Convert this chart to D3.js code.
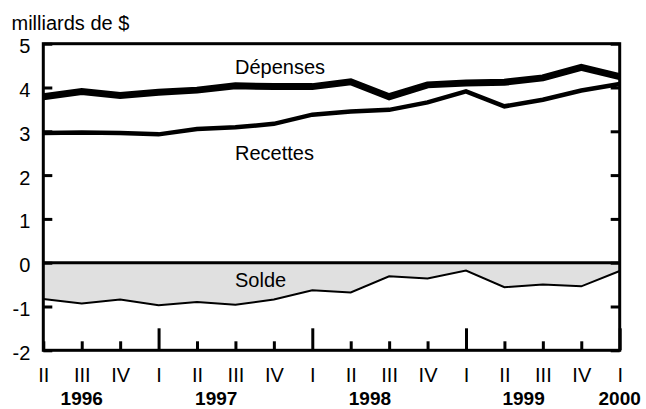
<!DOCTYPE html>
<html>
<head>
<meta charset="utf-8">
<script src="https://cdn.jsdelivr.net/npm/d3@7"></script>
<style>
  body { margin: 0; background: #fff; }
  svg text { font-family: "Liberation Sans", Arial, sans-serif; fill: #000; }
</style>
</head>
<body>
<div id="chart"></div>
<script>
// quarters from 1996 Q2 to 2000 Q1
var quarters = ["II","III","IV","I","II","III","IV","I","II","III","IV","I","II","III","IV","I"];
var quarterYears = [1996,1996,1996,1997,1997,1997,1997,1998,1998,1998,1998,1999,1999,1999,1999,2000];
var yTicks = [5, 4, 3, 2, 1, 0, -1, -2];

// milliards de $
var depenses = [3.79, 3.91, 3.82, 3.89, 3.94, 4.04, 4.02, 4.02, 4.13, 3.79, 4.06, 4.10, 4.12, 4.22, 4.46, 4.25];
var recettes = [2.96, 2.97, 2.96, 2.93, 3.05, 3.09, 3.17, 3.38, 3.45, 3.49, 3.66, 3.91, 3.57, 3.72, 3.93, 4.08];
var solde = [-0.83, -0.93, -0.84, -0.97, -0.90, -0.96, -0.84, -0.63, -0.68, -0.31, -0.36, -0.18, -0.56, -0.50, -0.54, -0.19];

var svgWidth = 646;
var svgHeight = 409;
var margin = { top: 43.7, right: 26.3, bottom: 58.7, left: 43.3 };
var width = svgWidth - margin.left - margin.right;
var height = svgHeight - margin.top - margin.bottom;

var svg = d3.select("#chart")
  .append("svg")
  .attr("width", svgWidth)
  .attr("height", svgHeight);

var chartGroup = svg.append("g")
  .attr("transform", `translate(${margin.left}, ${margin.top})`);

var idx = quarters.map((q, i) => i);

var xScale = d3.scaleLinear()
  .domain([0, quarters.length - 1])
  .range([0, width]);

var yScale = d3.scaleLinear()
  .domain([-2, 5])
  .range([height, 0]);

// unit label
svg.append("text")
  .attr("x", 11.5)
  .attr("y", 29.5)
  .attr("font-size", "20px")
  .text("milliards de $");

// solde area
var area = d3.area()
  .x((d, i) => xScale(i))
  .y0(yScale(0))
  .y1(d => yScale(d));

chartGroup.append("path")
  .datum(solde)
  .attr("d", area)
  .attr("fill", "#e0e0e0");

// zero line
chartGroup.append("line")
  .attr("x1", 0)
  .attr("x2", width)
  .attr("y1", yScale(0))
  .attr("y2", yScale(0))
  .attr("stroke", "#000")
  .attr("stroke-width", 3);

var line = d3.line()
  .x((d, i) => xScale(i))
  .y(d => yScale(d));

chartGroup.append("path")
  .datum(solde)
  .attr("d", line)
  .attr("fill", "none")
  .attr("stroke", "#000")
  .attr("stroke-width", 2);

chartGroup.append("path")
  .datum(recettes)
  .attr("d", line)
  .attr("fill", "none")
  .attr("stroke", "#000")
  .attr("stroke-width", 4.5);

chartGroup.append("path")
  .datum(depenses)
  .attr("d", line)
  .attr("fill", "none")
  .attr("stroke", "#000")
  .attr("stroke-width", 7);

// axes
var leftAxis = d3.axisLeft(yScale)
  .tickValues(yTicks)
  .tickFormat(d => String(d))
  .tickSizeInner(-9)
  .tickSizeOuter(0)
  .tickPadding(13);

var rightAxis = d3.axisRight(yScale)
  .tickValues(yTicks)
  .tickFormat("")
  .tickSizeInner(-9)
  .tickSizeOuter(0);

var bottomAxis = d3.axisBottom(xScale)
  .tickValues(idx)
  .tickFormat(i => quarters[i])
  .tickSizeInner(-9)
  .tickSizeOuter(0)
  .tickPadding(18);

var yAxisG = chartGroup.append("g").call(leftAxis);
var yRightG = chartGroup.append("g")
  .attr("transform", `translate(${width}, 0)`)
  .call(rightAxis);
var xAxisG = chartGroup.append("g")
  .attr("transform", `translate(0, ${height})`)
  .call(bottomAxis);

// longer ticks at the start of each year
xAxisG.selectAll(".tick line")
  .attr("y2", i => quarters[i] === "I" ? -22 : -9);

[yAxisG, yRightG, xAxisG].forEach(function(g) {
  g.select(".domain").remove();
  g.selectAll(".tick line").attr("stroke", "#000").attr("stroke-width", 3);
  g.selectAll("text").attr("font-size", "20px").attr("font-family", null);
});

yAxisG.selectAll("text").attr("dy", "0.45em");

// year labels, centred on the quarters of each year
var years = Array.from(new Set(quarterYears));
chartGroup.selectAll(".year")
  .data(years)
  .enter()
  .append("text")
  .attr("class", "year")
  .attr("x", y => xScale(d3.mean(idx.filter(i => quarterYears[i] === y))))
  .attr("y", height + 54.5)
  .attr("text-anchor", "middle")
  .attr("font-size", "19px")
  .attr("font-weight", "bold")
  .text(y => y);

// frame
chartGroup.append("rect")
  .attr("x", 0)
  .attr("y", 0)
  .attr("width", width)
  .attr("height", height)
  .attr("fill", "none")
  .attr("stroke", "#000")
  .attr("stroke-width", 3);

// series labels
var seriesLabels = [
  { name: "Dépenses", y: 74 },
  { name: "Recettes", y: 160 },
  { name: "Solde", y: 286.7 }
];
svg.selectAll(".series-label")
  .data(seriesLabels)
  .enter()
  .append("text")
  .attr("class", "series-label")
  .attr("x", 235)
  .attr("y", d => d.y)
  .attr("font-size", "20px")
  .text(d => d.name);
</script>
</body>
</html>
